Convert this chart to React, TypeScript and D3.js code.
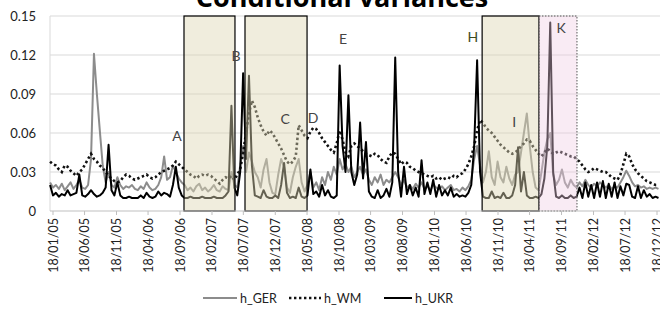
import React from "react";
import * as d3 from "d3";

// biweekly conditional variances, first obs 04/01/05
const startDate = "2005-01-04";
const stepDays = 14;

const hGER = [
  0.022, 0.018, 0.020, 0.017, 0.021, 0.016, 0.019, 0.022, 0.017, 0.020,
  0.024, 0.018, 0.017, 0.020, 0.040, 0.121, 0.090, 0.062, 0.035, 0.022,
  0.030, 0.020, 0.018, 0.026, 0.020, 0.017, 0.019, 0.018, 0.020, 0.017,
  0.016, 0.019, 0.017, 0.022, 0.018, 0.016, 0.017, 0.020, 0.026, 0.042,
  0.024, 0.026, 0.035, 0.030, 0.025, 0.022, 0.020, 0.016, 0.018, 0.015,
  0.019, 0.021, 0.016, 0.018, 0.015, 0.017, 0.020, 0.016, 0.015, 0.019,
  0.017, 0.016, 0.030, 0.020, 0.018, 0.035, 0.050, 0.030, 0.045, 0.038,
  0.030, 0.026, 0.018, 0.032, 0.040, 0.022, 0.014, 0.013, 0.028, 0.040,
  0.034, 0.018, 0.014, 0.026, 0.034, 0.040, 0.022, 0.015, 0.020, 0.030,
  0.018, 0.022, 0.016, 0.026, 0.020, 0.030, 0.024, 0.034, 0.028, 0.040,
  0.032, 0.036, 0.030, 0.034, 0.026, 0.030, 0.034, 0.028, 0.032, 0.024,
  0.020, 0.026, 0.022, 0.028, 0.020, 0.024, 0.022, 0.026, 0.030, 0.026,
  0.020, 0.024, 0.018, 0.020, 0.017, 0.021, 0.018, 0.022, 0.017, 0.019,
  0.016, 0.020, 0.018, 0.017, 0.019, 0.016, 0.018, 0.020, 0.016, 0.017,
  0.015, 0.018, 0.016, 0.019, 0.024, 0.040, 0.050, 0.035, 0.022, 0.030,
  0.046, 0.026, 0.020, 0.038, 0.026, 0.022, 0.034, 0.025, 0.020, 0.028,
  0.030, 0.045, 0.060, 0.075, 0.050, 0.030, 0.018, 0.016, 0.030, 0.045,
  0.055, 0.060, 0.028, 0.020, 0.024, 0.032, 0.022, 0.018, 0.024, 0.020,
  0.018, 0.022, 0.019, 0.024, 0.020, 0.018, 0.021, 0.019, 0.022, 0.020,
  0.018, 0.020, 0.017, 0.019, 0.018, 0.022, 0.026, 0.031, 0.027, 0.022,
  0.019, 0.020, 0.018, 0.019, 0.017, 0.018, 0.017, 0.018, 0.017,
];

const hWM = [
  0.038, 0.036, 0.035, 0.032, 0.030, 0.035, 0.034, 0.031, 0.029, 0.027,
  0.030, 0.032, 0.036, 0.040, 0.044, 0.040, 0.038, 0.035, 0.033, 0.030,
  0.027, 0.025, 0.023, 0.022, 0.023, 0.026, 0.028, 0.027, 0.025, 0.024,
  0.025, 0.026, 0.027, 0.028, 0.026, 0.025, 0.026, 0.028, 0.030, 0.031,
  0.032, 0.033, 0.035, 0.038, 0.036, 0.034, 0.032, 0.030, 0.028, 0.027,
  0.025, 0.027, 0.028, 0.027, 0.028, 0.027, 0.025, 0.023, 0.021, 0.024,
  0.026, 0.025, 0.027, 0.024, 0.028, 0.032, 0.045, 0.060, 0.075, 0.085,
  0.080, 0.072, 0.066, 0.061, 0.058, 0.062, 0.060, 0.056, 0.052, 0.048,
  0.043, 0.038, 0.036, 0.038, 0.042, 0.066, 0.062, 0.058, 0.056, 0.061,
  0.064, 0.063, 0.060, 0.056, 0.053, 0.050, 0.047, 0.045, 0.052, 0.062,
  0.055, 0.045, 0.042, 0.050, 0.052, 0.050, 0.048, 0.046, 0.044, 0.043,
  0.042, 0.044, 0.043, 0.040, 0.038, 0.037, 0.042, 0.045, 0.044, 0.040,
  0.036, 0.038, 0.037, 0.034, 0.033, 0.031, 0.030, 0.029, 0.028, 0.027,
  0.026, 0.027, 0.025, 0.026, 0.024, 0.025, 0.026, 0.025, 0.027, 0.026,
  0.028, 0.029, 0.032, 0.036, 0.042, 0.050, 0.062, 0.070, 0.068, 0.064,
  0.062, 0.060, 0.057, 0.054, 0.051, 0.049, 0.047, 0.045, 0.044, 0.045,
  0.047, 0.050, 0.052, 0.055, 0.054, 0.050, 0.047, 0.044, 0.042, 0.045,
  0.048, 0.046, 0.044, 0.045, 0.046, 0.045, 0.044, 0.043, 0.042, 0.042,
  0.040, 0.038, 0.035, 0.032, 0.030, 0.031, 0.033, 0.032, 0.031, 0.030,
  0.030, 0.028, 0.026, 0.025, 0.024, 0.028, 0.036, 0.044, 0.042, 0.036,
  0.032, 0.029, 0.027, 0.025, 0.023, 0.022, 0.021, 0.020, 0.020,
];

const hUKR = [
  0.020, 0.012, 0.014, 0.011, 0.013, 0.012, 0.016, 0.012, 0.013, 0.014,
  0.028, 0.012, 0.011, 0.013, 0.016, 0.013, 0.011, 0.012, 0.014, 0.018,
  0.051, 0.016, 0.012, 0.022, 0.012, 0.010, 0.010, 0.011, 0.010, 0.010,
  0.010, 0.012, 0.010, 0.014, 0.011, 0.010, 0.011, 0.015, 0.012, 0.014,
  0.013, 0.011, 0.020, 0.034, 0.018, 0.012, 0.010, 0.010, 0.011, 0.010,
  0.010, 0.010, 0.011, 0.010, 0.010, 0.010, 0.011, 0.010, 0.010, 0.010,
  0.012, 0.015, 0.081, 0.018, 0.012, 0.030, 0.106, 0.040, 0.104, 0.035,
  0.012, 0.011, 0.010, 0.016, 0.011, 0.010, 0.010, 0.012, 0.010, 0.020,
  0.037, 0.014, 0.010, 0.011, 0.010, 0.018, 0.011, 0.010, 0.012, 0.032,
  0.013, 0.015, 0.011, 0.020, 0.012, 0.016, 0.011, 0.010, 0.012, 0.112,
  0.050, 0.030, 0.089, 0.030, 0.020, 0.028, 0.068, 0.025, 0.053, 0.015,
  0.011, 0.010, 0.016, 0.010, 0.012, 0.017, 0.011, 0.022, 0.118, 0.030,
  0.011, 0.034, 0.013, 0.020, 0.012, 0.018, 0.011, 0.039, 0.013, 0.022,
  0.013, 0.024, 0.011, 0.020, 0.012, 0.016, 0.012, 0.018, 0.011, 0.013,
  0.011, 0.012, 0.011, 0.014, 0.020, 0.050, 0.116, 0.030, 0.011, 0.010,
  0.010, 0.015, 0.010, 0.011, 0.010, 0.014, 0.010, 0.010, 0.012, 0.020,
  0.049, 0.015, 0.030, 0.012, 0.010, 0.010, 0.011, 0.010, 0.013, 0.025,
  0.050, 0.145, 0.030, 0.011, 0.010, 0.012, 0.010, 0.010, 0.012, 0.010,
  0.011, 0.018, 0.010, 0.022, 0.011, 0.020, 0.010, 0.022, 0.011, 0.023,
  0.010, 0.021, 0.011, 0.022, 0.010, 0.019, 0.012, 0.021, 0.020, 0.011,
  0.010, 0.019, 0.010, 0.016, 0.011, 0.013, 0.010, 0.011, 0.010,
];

const yTicks = [0, 0.03, 0.06, 0.09, 0.12, 0.15];
const yTickLabels = ["0", "0.03", "0.06", "0.09", "0.12", "0.15"];

// x tick labels every five months
const xTickLabels = [
  "18/01/05", "18/06/05", "18/11/05", "18/04/06", "18/09/06", "18/02/07",
  "18/07/07", "18/12/07", "18/05/08", "18/10/08", "18/03/09", "18/08/09",
  "18/01/10", "18/06/10", "18/11/10", "18/04/11", "18/09/11", "18/02/12",
  "18/07/12", "18/12/12",
];

// shaded periods [from, to]
const boxPeriods = [
  ["2006-10-07", "2007-06-08"],
  ["2007-07-26", "2008-05-18"],
  ["2010-09-03", "2011-06-02"],
];
const pinkPeriod = ["2011-06-02", "2011-12-01"];

const letters = ["A", "B", "C", "D", "E", "H", "I", "K"];
const letterDates = [
  "2006-09-04", "2007-06-13", "2008-02-03", "2008-06-16",
  "2008-11-06", "2010-07-21", "2011-02-03", "2011-09-16",
];
const letterValues = [0.058, 0.12, 0.0715, 0.072, 0.133, 0.134, 0.069, 0.141];

const W = 660;
const H = 315;
const font = "Lato, 'Open Sans', sans-serif";

export default function App() {
  const parse = d3.timeParse("%Y-%m-%d");
  const parseTick = d3.timeParse("%d/%m/%y");
  const t0 = parse(startDate)!;
  const dates = hUKR.map((_, i) => d3.timeDay.offset(t0, stepDays * i));

  const x = d3
    .scaleTime()
    .domain([parseTick("18/01/05")!, parseTick("18/12/12")!])
    .range([53, 657]);
  const y = d3.scaleLinear().domain([0, 0.15]).range([211, 16]);

  const line = d3
    .line<number>()
    .x((_, i) => x(dates[i]))
    .y((d) => y(d));

  const left = 50;
  const right = W;

  return (
    <div style={{ position: "fixed", left: 0, top: 0 }}>
      <svg width={W} height={H} style={{ display: "block", background: "#fff" }}>
        <text
          x={342}
          y={7}
          textAnchor="middle"
          fontFamily="'Open Sans', sans-serif"
          fontWeight="bold"
          fontSize={27}
          fill="#000"
        >
          Conditional variances
        </text>

        {/* grid */}
        {yTicks.map((t, i) => (
          <g key={i}>
            {i > 0 && (
              <line x1={left} x2={right} y1={y(t)} y2={y(t)} stroke="#d9d9d9" strokeWidth={1} />
            )}
            <text
              x={36}
              y={y(t)}
              textAnchor="end"
              dominantBaseline="central"
              fontFamily={font}
              fontSize={13}
              fill="#222"
            >
              {yTickLabels[i]}
            </text>
          </g>
        ))}
        <line x1={left} x2={left} y1={y(0.15)} y2={y(0)} stroke="#d9d9d9" />

        {/* series */}
        <path d={line(hGER)!} fill="none" stroke="#8c8c8c" strokeWidth={2} strokeLinejoin="round" />
        <path
          d={line(hWM)!}
          fill="none"
          stroke="#111"
          strokeWidth={2.6}
          strokeDasharray="2.4,2.6"
        />
        <path d={line(hUKR)!} fill="none" stroke="#000" strokeWidth={2} strokeLinejoin="round" />

        {/* shaded periods */}
        {boxPeriods.map((p, i) => {
          const x0 = x(parse(p[0])!);
          const x1 = x(parse(p[1])!);
          return (
            <rect
              key={i}
              x={x0}
              y={y(0.15)}
              width={x1 - x0}
              height={y(0) - y(0.15)}
              fill="rgb(222,215,180)"
              fillOpacity={0.45}
              stroke="#000"
              strokeWidth={1.2}
            />
          );
        })}
        {(() => {
          const x0 = x(parse(pinkPeriod[0])!);
          const x1 = x(parse(pinkPeriod[1])!);
          return (
            <rect
              x={x0}
              y={y(0.15)}
              width={x1 - x0}
              height={y(0) - y(0.15)}
              fill="rgb(240,205,228)"
              fillOpacity={0.4}
              stroke="#555"
              strokeWidth={1}
              strokeDasharray="1.5,1.5"
            />
          );
        })()}

        {/* x axis */}
        <line x1={left} x2={right} y1={y(0)} y2={y(0)} stroke="#bfbfbf" strokeWidth={1} />
        {xTickLabels.map((lab, i) => {
          const xp = x(parseTick(lab)!);
          return (
            <g key={lab}>
              <line x1={xp} x2={xp} y1={y(0)} y2={y(0) + 4} stroke="#bfbfbf" />
              <text
                transform={`translate(${xp},218) rotate(-90)`}
                textAnchor="end"
                dominantBaseline="central"
                fontFamily={font}
                fontSize={12.5}
                fill="#222"
              >
                {lab}
              </text>
            </g>
          );
        })}

        {/* annotations */}
        {letters.map((l, i) => (
          <text
            key={l}
            x={x(parse(letterDates[i])!)}
            y={y(letterValues[i])}
            textAnchor="middle"
            dominantBaseline="central"
            fontFamily={font}
            fontSize={14}
            fill={l === "H" ? "#3d4a1c" : "#444"}
          >
            {l}
          </text>
        ))}

        {/* legend */}
        <g fontFamily={font} fontSize={12.5} fill="#222">
          <line x1={203} x2={237} y1={298} y2={298} stroke="#8c8c8c" strokeWidth={2} />
          <text x={240} y={298} dominantBaseline="central">h_GER</text>
          <line x1={289} x2={321} y1={298} y2={298} stroke="#111" strokeWidth={2.6} strokeDasharray="2.4,2.6" />
          <text x={324} y={298} dominantBaseline="central">h_WM</text>
          <line x1={384} x2={412} y1={298} y2={298} stroke="#000" strokeWidth={2} />
          <text x={415} y={298} dominantBaseline="central">h_UKR</text>
        </g>
      </svg>
    </div>
  );
}
